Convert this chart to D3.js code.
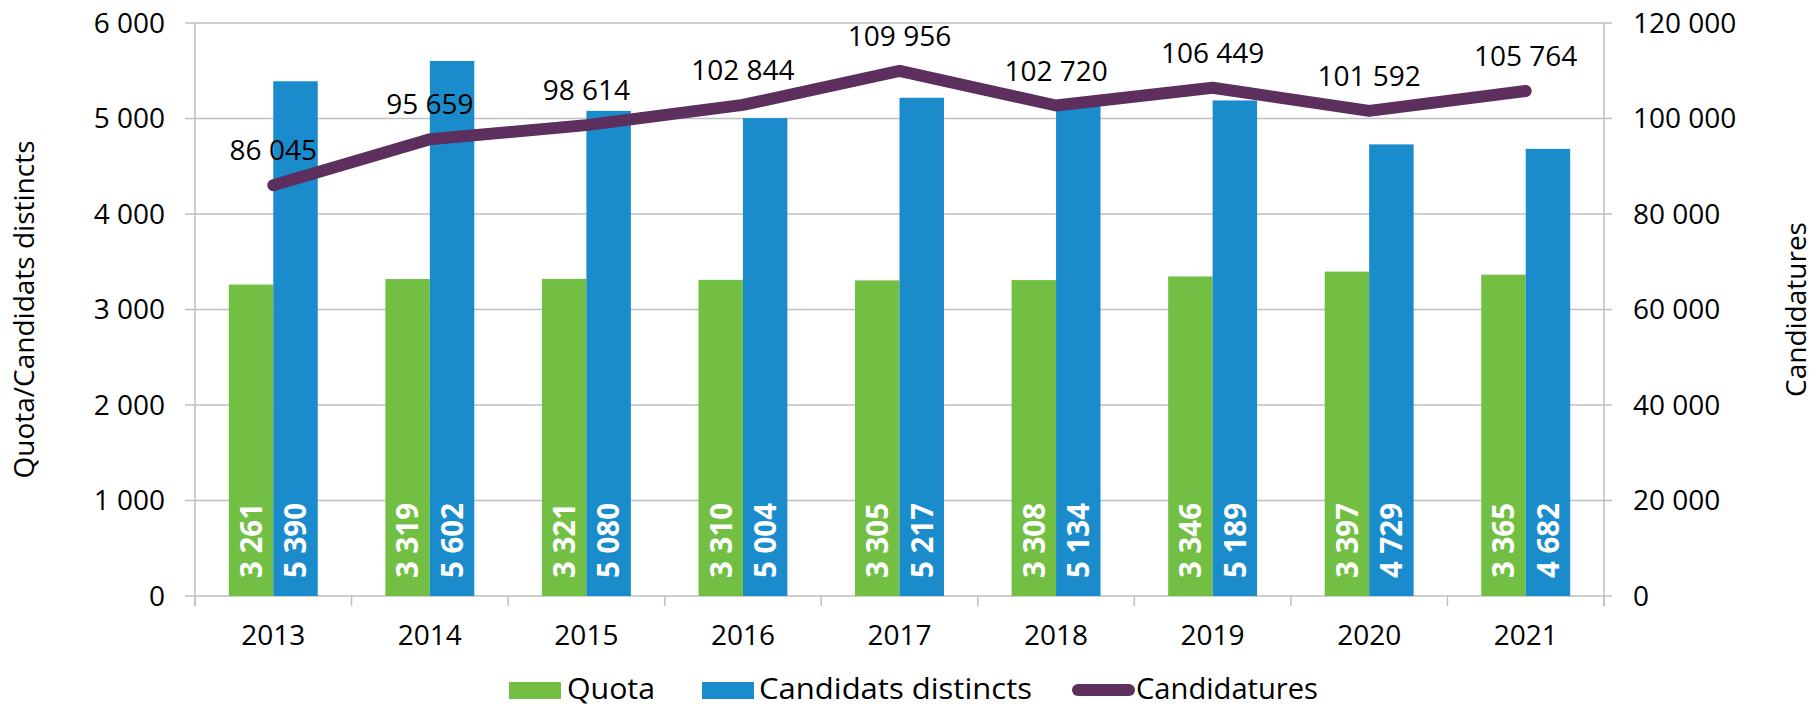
<!DOCTYPE html>
<html><head><meta charset="utf-8">
<script src="https://cdn.jsdelivr.net/npm/d3@7"></script>
<style>body{margin:0;background:#fff;} text{font-family:"Open Sans",sans-serif;}</style>
</head><body><svg id="c" width="1816" height="707"></svg>
<script>
const years = ["2013","2014","2015","2016","2017","2018","2019","2020","2021"];
const quota = [3261,3319,3321,3310,3305,3308,3346,3397,3365];
const candidats = [5390,5602,5080,5004,5217,5134,5189,4729,4682];
const candidatures = [86045,95659,98614,102844,109956,102720,106449,101592,105764];
const leftTicks = [0,1000,2000,3000,4000,5000,6000];
const rightTicks = [0,20000,40000,60000,80000,100000,120000];
const seriesNames = ["Quota","Candidats distincts","Candidatures"];
const colors = {quota:"#72bf44", cand:"#1a8ccb", line:"#5c2f5e", grid:"#bfbfbf"};

const fmt = v => d3.format(",")(v).replace(/,/g, "\u00a0");
const svg = d3.select("#c");
const L = 195, R = 1604, T = 23, B = 596;

const xCat = d3.scaleBand().domain(years).range([L, R]).padding(0);
const xGrp = d3.scaleBand().domain(years).range([L, R]).paddingInner(0.432).paddingOuter(0.216);
const xSub = d3.scaleBand().domain(["q","c"]).range([0, xGrp.bandwidth()]);
const yL = d3.scaleLinear().domain([0,6000]).range([B, T]);
const yR = d3.scaleLinear().domain([0,120000]).range([B, T]);

// gridlines
svg.append("g").selectAll("line").data(leftTicks).join("line")
  .attr("x1", L-10).attr("x2", R+8).attr("y1", d=>yL(d)).attr("y2", d=>yL(d))
  .attr("stroke", colors.grid).attr("stroke-width", 1.5);
// axis lines
svg.append("line").attr("x1",L).attr("x2",L).attr("y1",T).attr("y2",B+10).attr("stroke",colors.grid).attr("stroke-width",1.5);
svg.append("line").attr("x1",R).attr("x2",R).attr("y1",T).attr("y2",B+10).attr("stroke",colors.grid).attr("stroke-width",1.5);
// category ticks
svg.append("g").selectAll("line").data(years.concat(["end"])).join("line")
  .attr("x1", (d,i)=> L + i*xCat.step()).attr("x2", (d,i)=> L + i*xCat.step())
  .attr("y1", B).attr("y2", B+10).attr("stroke", colors.grid).attr("stroke-width", 1.5);

// left tick labels
svg.append("g").selectAll("text").data(leftTicks).join("text")
  .attr("x", 165).attr("y", d=>yL(d)).attr("dy","0.35em").attr("text-anchor","end")
  .attr("font-size",28).attr("fill","#000").text(fmt);
// right tick labels
svg.append("g").selectAll("text").data(rightTicks).join("text")
  .attr("x", 1633).attr("y", d=>yR(d)).attr("dy","0.35em").attr("text-anchor","start")
  .attr("font-size",28).attr("fill","#000").text(fmt);
// year labels
svg.append("g").selectAll("text").data(years).join("text")
  .attr("x", d=>xCat(d)+xCat.bandwidth()/2).attr("y", 645).attr("text-anchor","middle")
  .attr("font-size",28).attr("fill","#000").text(d=>d);

// axis titles
svg.append("text").attr("transform",`translate(34,${(T+B)/2}) rotate(-90)`).attr("text-anchor","middle")
  .attr("font-size",28).attr("fill","#000").text("Quota/Candidats distincts");
svg.append("text").attr("transform",`translate(1806,${(T+B)/2}) rotate(-90)`).attr("text-anchor","middle")
  .attr("font-size",28).attr("fill","#000").text("Candidatures");

// bars
const bars = svg.append("g");
years.forEach((yr,i)=>{
  const x0 = xGrp(yr);
  [["q",quota[i],colors.quota],["c",candidats[i],colors.cand]].forEach(([k,v,c])=>{
    bars.append("rect").attr("x", x0+xSub(k)).attr("width", xSub.bandwidth())
      .attr("y", yL(v)).attr("height", B - yL(v)).attr("fill", c);
    bars.append("text")
      .attr("transform", `translate(${x0+xSub(k)+xSub.bandwidth()/2},${B-18}) rotate(-90)`)
      .attr("dy","0.36em").attr("text-anchor","start").attr("font-size",30).attr("font-weight","bold")
      .attr("textLength",75).attr("lengthAdjust","spacingAndGlyphs")
      .attr("fill","#fff").text(fmt(v));
  });
});

// line
const cx = d => xCat(d)+xCat.bandwidth()/2;
const lineGen = d3.line().x((d,i)=>cx(years[i])).y(d=>yR(d));
svg.append("path").datum(candidatures).attr("d", lineGen).attr("fill","none")
  .attr("stroke", colors.line).attr("stroke-width", 12).attr("stroke-linecap","round").attr("stroke-linejoin","round");
svg.append("g").selectAll("text").data(candidatures).join("text")
  .attr("x",(d,i)=>cx(years[i])).attr("y", d=>yR(d)-25).attr("text-anchor","middle")
  .attr("font-size",28).attr("fill","#000").text(fmt);

// legend
const lg = svg.append("g");
const ly = 699;
lg.append("rect").attr("x",509).attr("y",682).attr("width",52).attr("height",17).attr("fill",colors.quota);
lg.append("text").attr("x",567).attr("y",ly).attr("font-size",30).attr("textLength",88).attr("lengthAdjust","spacingAndGlyphs").text(seriesNames[0]);
lg.append("rect").attr("x",702).attr("y",682).attr("width",52).attr("height",17).attr("fill",colors.cand);
lg.append("text").attr("x",759).attr("y",ly).attr("font-size",30).attr("textLength",273).attr("lengthAdjust","spacingAndGlyphs").text(seriesNames[1]);
lg.append("line").attr("x1",1078).attr("x2",1129).attr("y1",690).attr("y2",690).attr("stroke",colors.line).attr("stroke-width",12).attr("stroke-linecap","round");
lg.append("text").attr("x",1136).attr("y",ly).attr("font-size",30).attr("textLength",182).attr("lengthAdjust","spacingAndGlyphs").text(seriesNames[2]);
</script></body></html>
